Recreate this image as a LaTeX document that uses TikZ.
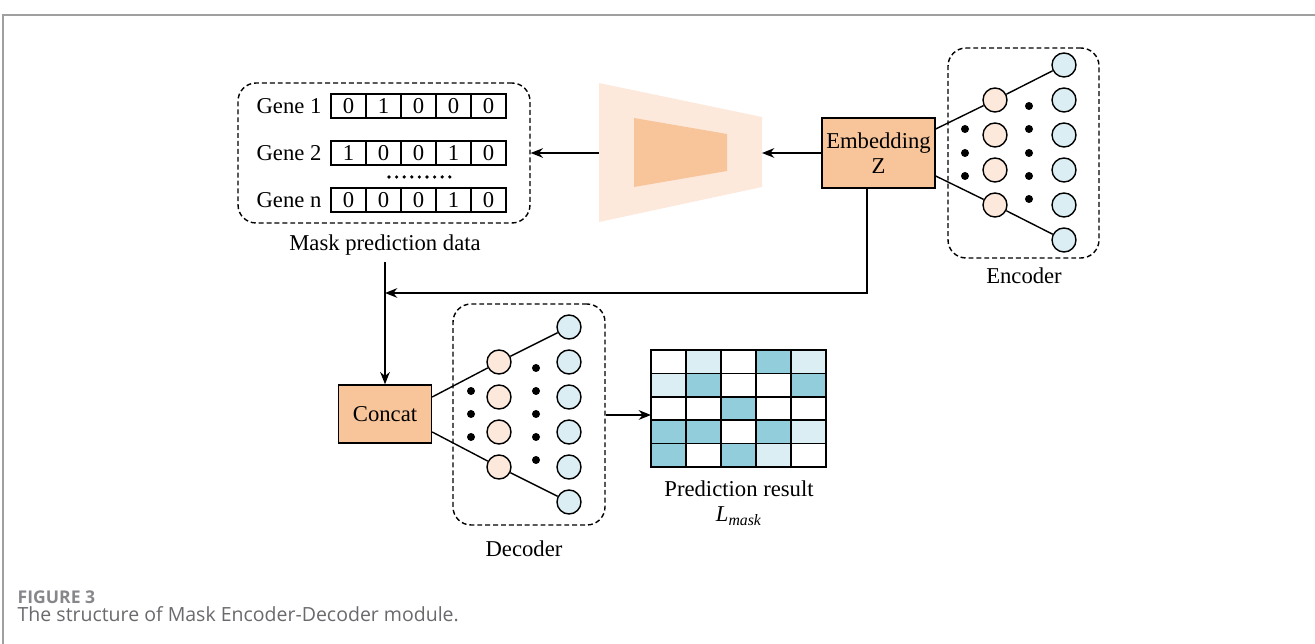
\documentclass[tikz,border=0pt]{standalone}
\usepackage{fontspec}
\setmainfont{Liberation Serif}
\newfontfamily\capfont{Open Sans}
\usetikzlibrary{arrows.meta,calc}

\definecolor{boxorange}{RGB}{248,197,155}
\definecolor{peach}{RGB}{252,233,220}
\definecolor{paleblue}{RGB}{218,238,243}
\definecolor{teal}{RGB}{146,205,220}
\definecolor{framegrey}{RGB}{160,160,160}
\definecolor{capgrey}{RGB}{105,105,110}

\begin{document}
\begin{tikzpicture}[x=0.02cm,y=-0.02cm,line width=0.8pt,
  >={Stealth[length=7pt,width=5.5pt]},
  every node/.style={font=\fontsize{12.9}{15}\selectfont},
  dashbox/.style={draw,dash pattern=on 2.8pt off 1.7pt,rounded corners=0.36cm,inner sep=0pt},
  opbox/.style={draw,fill=boxorange,inner sep=0pt,align=center},
  hid/.style={circle,draw,fill=peach,minimum size=0.48cm,inner sep=0pt},
  outn/.style={circle,draw,fill=paleblue,minimum size=0.48cm,inner sep=0pt},
  cell/.style={draw,minimum width=0.7cm,minimum height=0.48cm,inner sep=0pt},
  gcell/.style={draw,minimum width=0.7cm,minimum height=0.468cm,inner sep=0pt}]
\useasboundingbox (0,0) rectangle (1315,644);

% frame
\draw[framegrey,line width=1pt] (3,644) -- (3,15) -- (1315,15);

% mask prediction data
\node[dashbox,minimum width=5.84cm,minimum height=2.8cm] (mask) at (384,153) {};
\node[anchor=east] (g1) at (328,106) {Gene 1};
\node[anchor=east] (g2) at (328,153) {Gene 2};
\node[anchor=east] (gn) at (328,200) {Gene n};
\foreach \v [count=\i] in {0,1,0,0,0}
  \node[cell] (ra\i) at (313.5+35*\i,106) {\v};
\foreach \v [count=\i] in {1,0,0,1,0}
  \node[cell] (rb\i) at (313.5+35*\i,153) {\v};
\foreach \v [count=\i] in {0,0,0,1,0}
  \node[cell] (rn\i) at (313.5+35*\i,200) {\v};
\foreach \i in {0,...,8}
  \fill (389+7.6*\i,177) circle (1.8);
\node (masklbl) at (385,245) {Mask prediction data};

% projection block
\fill[peach] (599,83) -- (762,117) -- (762,187) -- (599,222) -- cycle;
\fill[boxorange] (634,118) -- (727,134) -- (727,171) -- (634,187) -- cycle;
\coordinate (trapL) at (599,153);
\coordinate (trapR) at (762,153);

% embedding
\node[opbox,minimum width=2.26cm,minimum height=1.4cm] (emb) at (878.5,153) {Embedding\\[-1pt]Z};
\draw[->] (emb.west) -- (trapR);
\draw[->] (trapL) -- (mask.east);

% encoder
\node[dashbox,minimum width=3.02cm,minimum height=4.2cm] (enc) at (1023.5,153) {};
\node (enclbl) at (1024,276) {Encoder};
\foreach \y [count=\i] in {100,135,170,205}
  \node[hid] (eh\i) at (995,\y) {};
\foreach \y [count=\i] in {65,100,135,170,205,240}
  \node[outn] (eo\i) at (1064,\y) {};
\foreach \y in {129,153,176}
  \fill (965,\y) circle (4);
\foreach \y in {106,129,153,176,199}
  \fill (1029,\y) circle (4);
\draw ($(emb.east)+(0,-24)$) -- (eh1) -- (eo1);
\draw ($(emb.east)+(0,23)$) -- (eh4) -- (eo6);

% skip path to concat
\coordinate (embS) at (867,188);
\coordinate (join) at (385,293);
\draw[->] (embS) |- (join);
\node[opbox,minimum width=1.86cm,minimum height=1.16cm] (concat) at (385,414) {Concat};
\draw[->] (masklbl.south) -- (concat.north);

% decoder
\node[dashbox,minimum width=3.04cm,minimum height=4.42cm] (dec) at (529,414.5) {};
\node (declbl) at (524,549) {Decoder};
\foreach \y [count=\i] in {362,397,432,467}
  \node[hid] (dh\i) at (499,\y) {};
\foreach \y [count=\i] in {327,362,397,432,467,502}
  \node[outn] (do\i) at (569,\y) {};
\foreach \y in {391,414,437}
  \fill (471,\y) circle (4);
\foreach \y in {368,391,414,437,460}
  \fill (536,\y) circle (4);
\draw ($(concat.east)+(0,-17)$) -- (dh1) -- (do1);
\draw ($(concat.east)+(0,18)$) -- (dh4) -- (do6);

% prediction result grid
\foreach \row [count=\j] in {{white,paleblue,white,teal,paleblue},
                             {paleblue,teal,white,white,teal},
                             {white,white,teal,white,white},
                             {teal,teal,white,teal,paleblue},
                             {teal,white,teal,paleblue,white}}
  \foreach \c [count=\i] in \row
    \node[gcell,fill=\c] (p\j\i) at (633.5+35*\i,338.3+23.4*\j) {};
\coordinate (gridW) at (651,415);
\draw[->] (dec.east |- gridW) -- (gridW);
\node (predlbl) at (739,489) {Prediction result};
\node (loss) at (739,516) {\textit{L}\textsubscript{\fontsize{9}{10}\selectfont\textit{mask}}};

% caption
\node[anchor=west,inner sep=0pt,font=\capfont\bfseries\fontsize{10}{12}\selectfont,text=capgrey!80] (fig) at (17,597) {FIGURE 3};
\node[anchor=west,inner sep=0pt,font=\capfont\fontsize{11.1}{13}\selectfont,text=capgrey] (cap) at (17,614) {The structure of Mask Encoder-Decoder module.};
\end{tikzpicture}
\end{document}
